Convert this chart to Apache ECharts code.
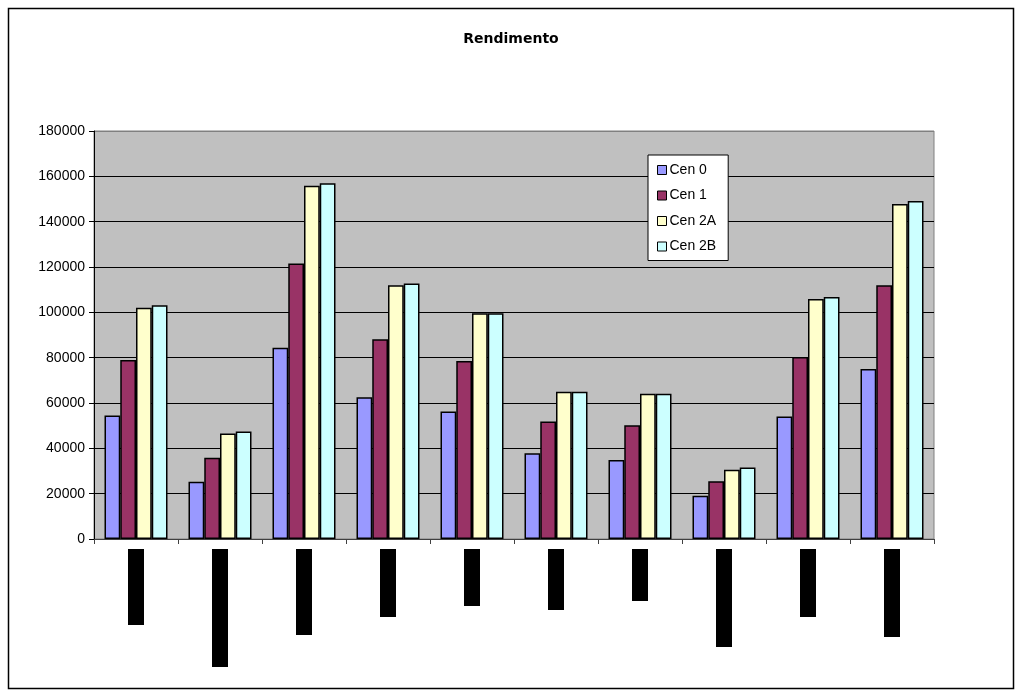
<!DOCTYPE html>
<html>
<head>
<meta charset="utf-8">
<title>Rendimento</title>
<script src="https://cdn.jsdelivr.net/npm/echarts@6/dist/echarts.min.js"></script>
<style>
  html, body { margin: 0; padding: 0; background: #fff; }
  #chart { width: 1022px; height: 693px; }
</style>
</head>
<body>
<div id="chart"></div>
<script>
// Chart data
const categories = ['1', '2', '3', '4', '5', '6', '7', '8', '9', '10'];
const seriesNames = ['Cen 0', 'Cen 1', 'Cen 2A', 'Cen 2B'];
const cen0  = [54500, 25300, 84400, 62500, 56200, 37800, 34900, 19100, 54000, 75000];
const cen1  = [79000, 35900, 121500, 88100, 78500, 51800, 50200, 25500, 80300, 112000];
const cen2A = [102000, 46500, 155900, 111900, 99600, 65000, 64100, 30600, 105900, 147800];
const cen2B = [103100, 47400, 156900, 112700, 99600, 65000, 64100, 31500, 106800, 149100];
const yTicks = [0, 20000, 40000, 60000, 80000, 100000, 120000, 140000, 160000, 180000];

// Styling
const colors = ['#9999FF', '#993366', '#FFFFCC', '#CCFFFF'];
// length of each blacked-out category label box (px)
const labelBoxLen = [76, 118, 86, 68, 57, 61, 52, 98, 68, 88];

const values = [cen0, cen1, cen2A, cen2B];

const rich = {};
labelBoxLen.forEach((len, i) => {
  rich['b' + i] = {
    width: len, height: 16, backgroundColor: '#000', color: '#000',
    fontSize: 11, fontFamily: 'Liberation Sans'
  };
});

const chart = echarts.init(document.getElementById('chart'), null, { renderer: 'canvas' });

chart.setOption({
  animation: false,
  backgroundColor: '#fff',
  title: {
    text: 'Rendimento',
    left: 'center',
    top: 27,
    textStyle: {
      fontFamily: 'DejaVu Sans', fontSize: 14, fontWeight: 'bold', color: '#000'
    }
  },
  grid: {
    left: 94, top: 131, right: 88, bottom: 154,
    show: true, backgroundColor: '#C0C0C0', borderColor: '#808080', borderWidth: 1
  },
  legend: {
    orient: 'vertical',
    left: 648, top: 155,
    backgroundColor: '#fff',
    borderColor: '#000', borderWidth: 1,
    padding: [8, 12, 7, 9],
    itemWidth: 9, itemHeight: 9, itemGap: 11.5,
    icon: 'rect',
    data: seriesNames,
    itemStyle: { borderColor: '#000', borderWidth: 1 },
    textStyle: { fontFamily: 'Liberation Sans', fontSize: 14, color: '#000', padding: [0, 0, 0, -2] }
  },
  xAxis: {
    type: 'category',
    data: categories,
    boundaryGap: true,
    axisLine: { show: true, lineStyle: { color: '#404040', width: 1 } },
    axisTick: { show: true, alignWithLabel: false, length: 5, lineStyle: { color: '#404040' } },
    axisLabel: {
      interval: 0,
      rotate: 90,
      margin: 10,
      formatter: (v, i) => '{b' + i + '|' + v + '}',
      rich: rich
    },
    splitLine: { show: false }
  },
  yAxis: {
    type: 'value',
    min: yTicks[0],
    max: yTicks[yTicks.length - 1],
    interval: yTicks[1] - yTicks[0],
    axisLine: { show: true, lineStyle: { color: '#000', width: 1 } },
    axisTick: { show: true, length: 5, lineStyle: { color: '#000' } },
    axisLabel: {
      margin: 9,
      fontFamily: 'Liberation Sans', fontSize: 14, color: '#000',
      formatter: v => String(v)
    },
    splitLine: {
      show: true,
      lineStyle: {
        color: ['#000', '#000', '#000', '#000', '#000', '#000', '#000', '#000', '#000', '#808080'],
        width: 1
      }
    }
  },
  series: seriesNames.map((name, k) => ({
    name: name,
    type: 'bar',
    data: values[k],
    barGap: '0%',
    barCategoryGap: '25%',
    itemStyle: { color: colors[k], borderColor: '#000', borderWidth: 1.5 },
    emphasis: { disabled: true }
  })),
  graphic: [{
    type: 'rect',
    shape: { x: 8.5, y: 8.5, width: 1005, height: 680 },
    style: { fill: 'none', stroke: '#000', lineWidth: 1.5 },
    silent: true,
    z: 100
  }]
});
</script>
</body>
</html>
